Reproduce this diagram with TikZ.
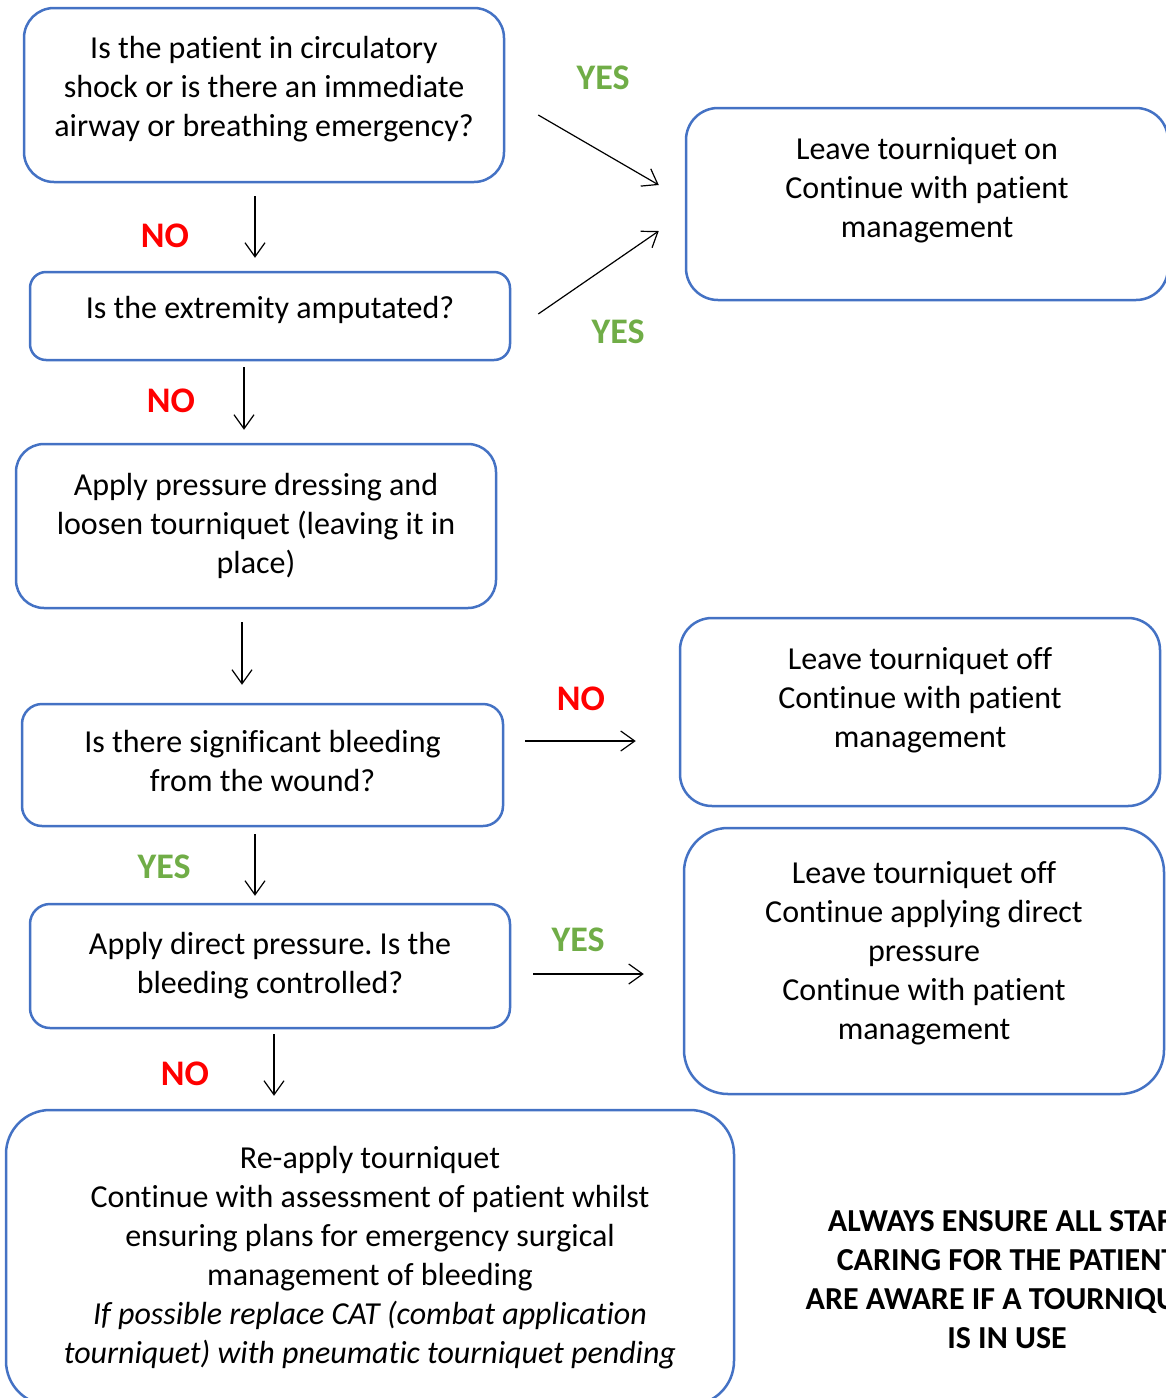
\documentclass[tikz,border=0pt]{standalone}
\usepackage{fontspec}
\setmainfont{Carlito}[Ligatures=NoCommon]
\usetikzlibrary{arrows.meta}
\definecolor{boxblue}{HTML}{4472C4}
\definecolor{yesgreen}{HTML}{70AD47}
\definecolor{nored}{HTML}{FF0000}
\frenchspacing

\begin{document}
\begin{tikzpicture}[x=0.5pt, y=-0.5pt, font=\fontsize{16}{19.5}\selectfont,
  box/.style={draw=boxblue, line width=1.25pt, align=center, inner sep=0pt},
  yes/.style={text=yesgreen, font=\fontsize{18}{21}\selectfont\bfseries},
  no/.style={text=nored, font=\fontsize{18}{21}\selectfont\bfseries},
  flow/.style={-{Straight Barb[length=7pt,width=10pt]}, line width=0.6pt},
]
\useasboundingbox (0,0) rectangle (1166,1398);

% left column
\node[box, rounded corners=15pt, minimum width=240pt, minimum height=87pt, text depth=8.5pt] (shock) at (264,95) {Is the patient in circulatory\\shock or is there an immediate\\airway or breathing emergency?};
\node[box, rounded corners=8pt, minimum width=240pt, minimum height=44pt, text depth=8.5pt] (amputated) at (270,316) {Is the extremity amputated?};
\node[box, rounded corners=14pt, minimum width=240pt, minimum height=82pt] (dressing) at (256,526) {Apply pressure dressing and\\loosen tourniquet (leaving it in\\place)};
\node[box, rounded corners=10pt, minimum width=240.5pt, minimum height=61pt, text depth=4pt] (bleeding) at (262.5,765) {Is there significant bleeding\\from the wound?};
\node[box, rounded corners=10pt, minimum width=240pt, minimum height=62pt] (direct) at (270,966) {Apply direct pressure. Is the\\bleeding controlled?};
\node[box, rounded corners=22pt, minimum width=364pt, minimum height=147.5pt] (reapply) at (370,1257.5) {Re-apply tourniquet\\Continue with assessment of patient whilst\\ensuring plans for emergency surgical\\management of bleeding\\\textit{If possible replace CAT (combat application}\\\textit{tourniquet) with pneumatic tourniquet pending}};

% right column
\node[box, rounded corners=16pt, minimum width=241pt, minimum height=96pt, text depth=16.5pt] (keepon) at (927,204) {Leave tourniquet on\\Continue with patient\\management};
\node[box, rounded corners=16pt, minimum width=240pt, minimum height=94pt, text depth=14.5pt] (keepoff) at (920,712) {Leave tourniquet off\\Continue with patient\\management};
\node[box, rounded corners=22pt, minimum width=240pt, minimum height=133pt, text depth=10.5pt] (pressoff) at (924,961) {Leave tourniquet off\\Continue applying direct\\pressure\\Continue with patient\\management};

\node[font=\fontsize{16}{19.5}\selectfont\bfseries, align=center] (warning) at (1007,1280) {ALWAYS ENSURE ALL STAFF\\CARING FOR THE PATIENT\\ARE AWARE IF A TOURNIQUET\\IS IN USE};

% answers
\node[yes] (yes1) at (603,78) {YES};
\node[yes] (yes2) at (618,332) {YES};
\node[no] (no1) at (165,236) {NO};
\node[no] (no2) at (171,401) {NO};
\node[no] (no3) at (581,699) {NO};
\node[yes] (yes3) at (164,867) {YES};
\node[yes] (yes4) at (578,940) {YES};
\node[no] (no4) at (185,1074) {NO};

\draw[flow] ([shift={(33,20)}]shock.east) -- ([shift={(-26,-19)}]keepon.west);
\draw[flow] ([shift={(27,-2)}]amputated.east) -- ([shift={(-26,27)}]keepon.west);
\draw[flow] ([shift={(-9,13)}]shock.south) -- ([shift={(-15,-13)}]amputated.north);
\draw[flow] ([shift={(-26,6)}]amputated.south) -- ([shift={(-12,-13)}]dressing.north);
\draw[flow] ([shift={(-14,13)}]dressing.south) -- ([shift={(-20.5,-18)}]bleeding.north);
\draw[flow] ([shift={(21,-24)}]bleeding.east) -- ([shift={(-43,29)}]keepoff.west);
\draw[flow] ([shift={(-7.5,7)}]bleeding.south) -- ([shift={(-15,-7)}]direct.north);
\draw[flow] ([shift={(22,8)}]direct.east) -- ([shift={(-39,13)}]pressoff.west);
\draw[flow] ([shift={(4,5)}]direct.south) -- ([shift={(-96,-13)}]reapply.north);
\end{tikzpicture}
\end{document}
